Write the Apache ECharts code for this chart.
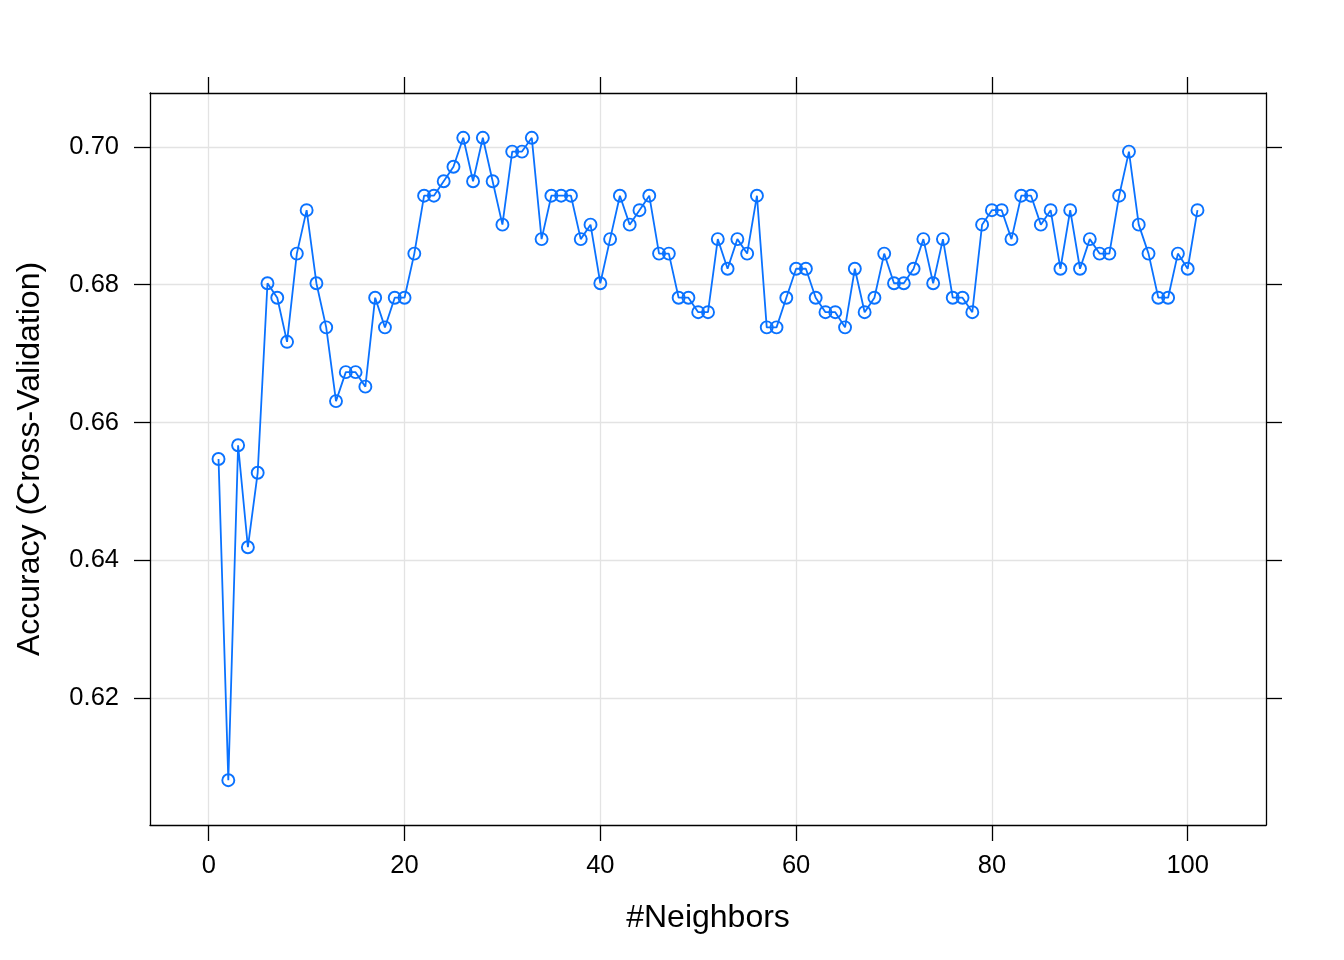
<!DOCTYPE html>
<html>
<head>
<meta charset="utf-8">
<script src="https://cdn.jsdelivr.net/npm/echarts@6/dist/echarts.min.js"></script>
<style>
  html, body { margin: 0; padding: 0; background: #fff; }
  #chart { width: 1344px; height: 960px; }
</style>
</head>
<body>
<div id="chart"></div>
<script>
// k values tried by the CV run
const neighbors = [
  1, 2, 3, 4, 5, 6, 7, 8, 9, 10, 11, 12, 13, 14, 15, 16, 17, 18, 19, 20,
  21, 22, 23, 24, 25, 26, 27, 28, 29, 30, 31, 32, 33, 34, 35, 36, 37, 38, 39, 40,
  41, 42, 43, 44, 45, 46, 47, 48, 49, 50, 51, 52, 53, 54, 55, 56, 57, 58, 59, 60,
  61, 62, 63, 64, 65, 66, 67, 68, 69, 70, 71, 72, 73, 74, 75, 76, 77, 78, 79, 80,
  81, 82, 83, 84, 85, 86, 87, 88, 89, 90, 91, 92, 93, 94, 95, 96, 97, 98, 99, 100, 101
]
const accuracy = [
  0.6547, 0.6081, 0.6567, 0.6419, 0.6527, 0.6802, 0.6781, 0.6717, 0.6845, 0.6908,
  0.6802, 0.6738, 0.6631, 0.6673, 0.6673, 0.6652, 0.6781, 0.6738, 0.6781, 0.6781,
  0.6845, 0.6929, 0.6929, 0.6950, 0.6971, 0.7013, 0.6950, 0.7013, 0.6950, 0.6887,
  0.6993, 0.6993, 0.7013, 0.6866, 0.6929, 0.6929, 0.6929, 0.6866, 0.6887, 0.6802,
  0.6866, 0.6929, 0.6887, 0.6908, 0.6929, 0.6845, 0.6845, 0.6781, 0.6781, 0.6760,
  0.6760, 0.6866, 0.6823, 0.6866, 0.6845, 0.6929, 0.6738, 0.6738, 0.6781, 0.6823,
  0.6823, 0.6781, 0.6760, 0.6760, 0.6738, 0.6823, 0.6760, 0.6781, 0.6845, 0.6802,
  0.6802, 0.6823, 0.6866, 0.6802, 0.6866, 0.6781, 0.6781, 0.6760, 0.6887, 0.6908,
  0.6908, 0.6866, 0.6929, 0.6929, 0.6887, 0.6908, 0.6823, 0.6908, 0.6823, 0.6866,
  0.6845, 0.6845, 0.6929, 0.6993, 0.6887, 0.6845, 0.6781, 0.6781, 0.6845, 0.6823, 0.6908
]
const xTicks = [0, 20, 40, 60, 80, 100]
const yTicks = [0.62, 0.64, 0.66, 0.68, 0.70]

const FONT = '"Liberation Sans", Arial, Helvetica, sans-serif'
const BLUE = '#0a72ff'
const black = { lineStyle: { color: '#000', width: 1.3 } }
const grid = { show: true, lineStyle: { color: '#e3e3e3', width: 1.3 } }

const chart = echarts.init(document.getElementById('chart'), null, { renderer: 'canvas' })

function xAx(pos, main) {
  return {
    type: 'value', position: pos, min: -6, max: 108,
    axisLine: { show: true, onZero: false, ...black },
    axisTick: { show: true, inside: false, length: 16, customValues: xTicks, ...black },
    axisLabel: main
      ? { show: true, customValues: xTicks, margin: 28, color: '#000', fontSize: 25.5, fontFamily: FONT }
      : { show: false },
    splitLine: main ? grid : { show: false },
    name: main ? '#Neighbors' : '', nameLocation: 'middle', nameGap: 77,
    nameTextStyle: { color: '#000', fontSize: 32, fontFamily: FONT }
  }
}
function yAx(pos, main) {
  return {
    type: 'value', position: pos, min: 0.6016, max: 0.7078,
    axisLine: { show: true, onZero: false, ...black },
    axisTick: { show: true, inside: false, length: 16, customValues: yTicks, ...black },
    axisLabel: main
      ? { show: true, customValues: yTicks, margin: 31, color: '#000', fontSize: 25.5, fontFamily: FONT,
          formatter: v => v.toFixed(2) }
      : { show: false },
    splitLine: main ? grid : { show: false },
    name: main ? 'Accuracy (Cross-Validation)' : '', nameLocation: 'middle', nameGap: 104,
    nameTextStyle: { color: '#000', fontSize: 32, fontFamily: FONT }
  }
}

chart.setOption({
  backgroundColor: '#fff',
  animation: false,
  grid: { left: 150, right: 78, top: 93, bottom: 135 },
  xAxis: [xAx('bottom', true), xAx('top', false)],
  yAxis: [yAx('left', true), yAx('right', false)],
  series: [{
    type: 'line',
    data: neighbors.map((k, i) => [k, accuracy[i]]),
    xAxisIndex: 0, yAxisIndex: 0,
    symbol: 'circle', symbolSize: 12, showAllSymbol: true,
    lineStyle: { color: BLUE, width: 1.8 },
    itemStyle: { color: 'rgba(0,0,0,0)', borderColor: BLUE, borderWidth: 1.9 }
  }]
})
</script>
</body>
</html>
